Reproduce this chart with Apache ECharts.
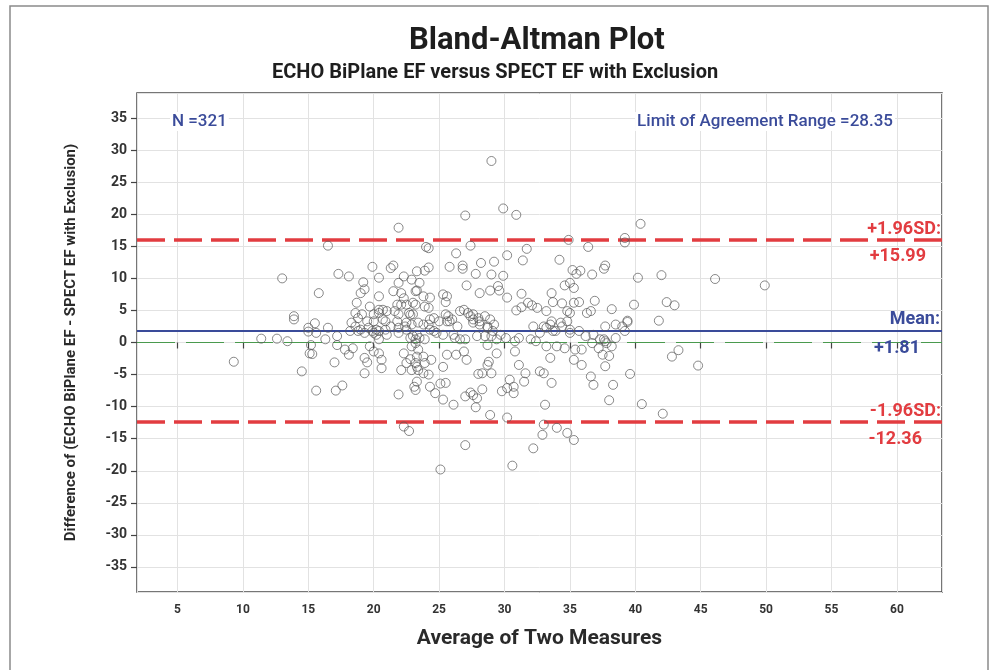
<!DOCTYPE html>
<html>
<head>
<meta charset="utf-8">
<title>Bland-Altman Plot</title>
<script src="https://cdn.jsdelivr.net/npm/echarts@6/dist/echarts.min.js"></script>
<style>
  html, body { margin: 0; padding: 0; background: #fff; }
  #main { width: 998px; height: 670px; }
</style>
</head>
<body>
<div id="main"></div>
<script>
// [average of two measures, difference]
const points = [
  [29.0,28.3],[29.9,20.9],[30.9,19.9],[27.0,19.8],[21.9,17.9],
  [24.0,14.9],[24.2,14.7],[27.4,15.1],[26.3,13.9],[31.7,14.6],[30.2,13.6],[34.9,16.0],[36.4,14.9],
  [34.2,12.9],[31.4,12.8],[29.2,12.6],[28.2,12.4],[25.8,11.8],[26.8,12.0],[26.8,11.5],[24.2,11.7],
  [23.9,11.2],[23.3,11.1],[27.8,10.7],[29.0,10.6],[29.9,10.4],[27.1,8.9],[28.1,7.7],[28.9,8.1],
  [29.5,8.8],[29.6,8.1],[30.2,7.0],[25.3,7.5],[25.6,7.2],[25.5,6.3],[23.8,7.2],[23.3,8.1],[23.5,9.3],
  [22.9,9.8],[24.2,5.4],[23.0,6.2],[22.8,4.3],[31.3,7.6],[31.8,6.2],[32.1,5.8],[32.5,5.4],[30.9,5.0],
  [31.3,5.5],[33.2,4.9],[33.6,7.7],[33.7,6.3],[34.6,8.9],[35.3,8.5],[35.2,11.3],[35.5,10.7],[35.8,11.2],
  [36.7,10.6],[36.9,6.5],[35.3,6.2],[35.7,6.3],[34.4,6.1],[36.3,4.6],[36.6,4.9],[34.8,4.9],[35.0,4.6],
  [26.6,4.9],[26.9,5.1],[27.2,4.6],[27.4,4.1],[25.7,4.1],[26.0,3.6],[25.6,3.3],[28.1,3.3],[27.6,3.6],
  [28.9,3.6],[24.3,3.6],[23.8,2.8],[35.0,9.3],
  [40.4,18.5],[39.2,16.3],[39.2,15.6],[37.7,12.0],[37.6,11.5],[40.2,10.1],[42.0,10.5],[46.1,9.9],
  [49.9,8.9],[38.2,5.2],[39.9,5.9],[42.4,6.3],[43.0,5.8],[37.7,2.5],[39.4,3.4],[39.4,3.2],[39.0,2.5],
  [41.8,3.4],
  [16.5,15.1],[13.0,10.0],[17.3,10.7],[18.1,10.3],[19.9,11.8],[21.3,11.6],[21.5,12.0],[20.4,10.1],
  [19.2,9.4],[15.8,7.7],[13.9,4.1],[15.5,3.0],[22.3,10.3],[21.9,9.3],[19.0,7.7],[19.3,8.3],[20.4,7.2],
  [21.5,8.0],[22.1,7.7],[22.3,6.9],[23.2,8.0],[18.7,6.2],[19.7,5.6],[20.4,5.1],[21.0,4.9],[21.6,4.9],
  [22.1,5.9],[23.2,5.9],[18.6,4.6],[18.8,3.8],[18.3,3.1],[19.5,3.3],[20.0,3.3],[20.7,3.6],[21.8,3.3],
  [22.5,3.1],[15.0,2.3],[16.5,2.3],
  [13.9,3.6],[15.0,1.7],[15.6,1.5],[17.2,1.0],[19.0,2.0],[19.6,2.3],[20.2,2.0],[20.9,3.3],[21.3,2.5],
  [22.5,2.0],[23.0,1.0],[11.4,0.6],[12.6,0.6],[13.4,0.2],[9.3,-3.0],[15.2,-0.4],[15.1,-1.7],[15.3,-1.8],
  [16.3,0.5],[17.2,-0.4],[17.8,-1.1],[18.1,-1.9],[18.4,-0.9],[17.0,-3.1],[14.5,-4.5],[15.6,-7.5],
  [17.1,-7.5],[17.6,-6.7],[19.3,-2.4],[19.5,-3.1],[19.3,-4.8],[20.6,-2.7],[20.6,-4.0],[20.0,-1.4],
  [20.4,-1.7],[19.7,-0.6],[20.2,1.2],[20.0,1.5],[21.0,1.2],[21.9,1.5],[22.3,-1.7],[22.5,-3.2],
  [22.1,-4.3],[22.9,-4.3],[23.3,-2.2],[22.9,-0.6],[23.2,0.5],[23.3,-3.8],[21.9,-8.1],[23.1,-6.9],
  [23.2,-7.4],[22.3,-13.1],[22.7,-13.8],
  [25.1,-19.8],[30.6,-19.2],[27.0,-16.0],[32.2,-16.5],[32.9,-14.4],[34.0,-13.3],[34.8,-14.1],
  [35.3,-15.2],[33.0,-12.8],[28.9,-11.3],[30.2,-11.7],[33.1,-9.7],[26.1,-9.7],[25.3,-8.9],[27.8,-10.1],
  [27.0,-8.4],[27.4,-7.8],[27.6,-8.2],[27.9,-8.7],[28.3,-7.3],[24.3,-6.9],[24.7,-7.9],[25.1,-6.4],
  [25.5,-6.3],[23.3,-6.1],[23.2,-3.2],[22.8,-2.6],[23.4,-4.3],[23.8,-4.8],[23.9,-3.2],[24.2,-5.0],
  [23.8,-2.2],[24.4,-2.7],[23.4,-1.1],[25.3,-3.8],[25.6,-1.9],[26.3,-1.9],[26.9,-1.4],[27.1,-2.7],
  [23.2,-0.1],[23.5,0.7],[23.3,1.2],[24.3,2.0],[24.6,1.8],[24.8,1.5],[25.3,1.2],[26.1,1.2],[26.4,2.5],
  [25.8,3.3],[26.6,0.5],[27.6,3.1],[28.1,2.8],[28.7,2.5],[29.2,2.8],[28.5,1.0],[29.0,1.0],[29.4,0.5],
  [28.7,-0.4],[29.4,-1.7],[28.8,-3.0],[28.7,-3.5],[28.3,-4.8],[29.0,-4.8],[28.0,-4.9],
  [31.1,0.7],[30.8,-1.4],[31.1,-3.5],[31.6,-4.8],[31.5,-6.1],[30.4,-5.8],[30.2,-7.1],[30.7,-6.9],
  [29.8,-7.6],[30.7,-7.9],[32.2,2.5],[32.7,1.5],[33.2,2.3],[33.7,1.8],[34.3,3.1],[34.8,3.3],[35.0,1.5],
  [32.4,0.2],[33.2,-0.6],[34.0,-0.6],[34.6,-0.9],[35.4,-1.1],[35.9,-1.1],[35.3,-2.7],[35.9,-3.5],
  [33.5,-2.4],[32.7,-4.5],[33.0,-4.8],[33.6,-6.3],[36.7,-0.1],[36.6,-5.3],[36.8,-6.6],
  [37.6,0.5],[37.8,-0.1],[38.2,-0.6],[37.2,-0.9],[37.5,-1.9],[38.0,-2.1],[37.7,-3.7],[38.3,-6.6],
  [38.0,-9.0],[39.6,-4.9],[40.5,-9.6],[42.1,-11.1],[42.8,-2.2],[43.3,-1.2],[44.8,-3.6],
  [19.1,4.4],[20.0,4.4],[20.4,4.6],[20.7,5.1],[21.8,5.9],[22.5,5.9],[21.9,4.4],[22.7,4.6],[23.0,4.4],
  [23.9,5.6],[24.3,7.0],[25.5,4.4],[27.6,4.4],[28.0,3.8],[24.6,3.8],[25.0,3.3],[24.2,2.8],[23.4,3.1],
  [22.9,2.8],[22.4,2.5],[21.9,2.3],[20.9,2.0],[20.4,1.8],[19.9,1.8],[19.3,1.5],[18.8,1.8],[18.2,1.8],
  [18.6,2.5],[20.4,0.5],[22.8,0.7],[23.9,0.5],[26.2,0.7],[27.0,0.5],[27.9,1.0],
  [28.5,4.1],[28.7,2.3],[29.1,1.8],[29.7,1.2],[30.1,0.7],[30.8,0.2],[32.0,0.5],[33.0,2.5],[33.5,2.8],
  [33.6,3.3],[33.9,1.8],[34.4,2.5],[35.0,2.0],[35.7,1.8],[36.2,1.0],[36.8,1.2],[37.3,0.5],[37.7,0.2],
  [38.5,2.8],[39.2,1.8],[38.5,0.7]
];

const meanDiff = 1.81;
const upperLimit = 15.99;
const lowerLimit = -12.36;
const sampleSize = 321;
const agreementRange = 28.35;

const font = 'Roboto, "Noto Sans", sans-serif';
const red = '#e23c40';
const blue = '#3a4b9a';
const hidden = { color: 'rgba(0,0,0,0)', width: 1, type: 'solid' };

const chart = echarts.init(document.getElementById('main'));

function limitLabel(text, color, pos, pad, dist) {
  return {
    show: true,
    formatter: text,
    position: pos,
    distance: dist,
    padding: [0, pad, 0, 0],
    color: color,
    fontFamily: font,
    fontWeight: 'bold',
    fontSize: 18
  };
}

const option = {
  animation: false,
  backgroundColor: '#fff',
  grid: {
    left: 137, right: 56, top: 93, bottom: 78,
    show: true, borderColor: '#4a4a4a', borderWidth: 1.5
  },
  xAxis: {
    type: 'value',
    min: 1.9, max: 63.45,
    minInterval: 5, maxInterval: 5, splitNumber: 12,
    axisLine: { show: false },
    axisTick: { length: 6, lineStyle: { color: '#444', width: 1.2 } },
    axisLabel: {
      showMinLabel: false, showMaxLabel: false,
      color: '#333', fontFamily: font, fontWeight: 'bold', fontSize: 12, margin: 12
    },
    splitLine: { lineStyle: { color: '#e2e2e2', width: 1 } },
    name: 'Average of Two Measures',
    nameLocation: 'middle',
    nameGap: 36,
    nameTextStyle: { color: '#2a2a2a', fontFamily: font, fontWeight: 'bold', fontSize: 21 }
  },
  yAxis: {
    type: 'value',
    min: -38.9, max: 38.9,
    minInterval: 5, maxInterval: 5, splitNumber: 16,
    axisLine: { show: false },
    axisTick: { show: true, length: 6, lineStyle: { color: '#444', width: 1.2 } },
    axisLabel: {
      showMinLabel: false, showMaxLabel: false,
      color: '#333', fontFamily: font, fontWeight: 'bold', fontSize: 14, margin: 10
    },
    splitLine: { lineStyle: { color: '#e2e2e2', width: 1 } },
    name: 'Difference of (ECHO BiPlane EF - SPECT EF with Exclusion)',
    nameLocation: 'middle',
    nameGap: 58,
    nameTextStyle: { color: '#2a2a2a', fontFamily: font, fontWeight: 'bold', fontSize: 15 }
  },
  graphic: [
    {
      type: 'rect', silent: true, z: -1,
      shape: { x: 10, y: 6, width: 978, height: 680 },
      style: { fill: 'none', stroke: '#8a8a8a', lineWidth: 1.5 }
    },
    {
      type: 'text', left: 539 - 130, top: 26,
      style: { text: 'Bland-Altman Plot', fill: '#1e1e1e', font: 'bold 31px ' + font, width: 260, align: 'center' }
    },
    {
      type: 'text', left: 272, top: 63,
      style: { text: 'ECHO BiPlane EF versus SPECT EF with Exclusion', fill: '#1e1e1e', font: 'bold 20px ' + font }
    },
    {
      type: 'text', left: 170, top: 112, z: 10,
      style: { text: 'N =' + sampleSize, fill: blue, font: '500 17px ' + font,
        backgroundColor: '#fff', padding: [1, 2] }
    },
    {
      type: 'text', right: 103, top: 112, z: 10,
      style: { text: 'Limit of Agreement Range =' + agreementRange, fill: blue, font: '500 17px ' + font,
        backgroundColor: '#fff', padding: [1, 2] }
    }
  ],
  series: [
    {
      type: 'scatter',
      data: points,
      symbol: 'circle',
      symbolSize: 9,
      z: 3,
      itemStyle: { color: 'rgba(255,255,255,0)', borderColor: '#595959', borderWidth: 0.9 },
      markLine: {
        silent: true,
        symbol: 'none',
        animation: false,
        z: 2,
        data: [
          { yAxis: 0, lineStyle: { color: '#4a9a4e', width: 1.2, type: [38, 11] }, label: { show: false } },
          { yAxis: meanDiff, lineStyle: { color: blue, width: 2, type: 'solid' },
            label: limitLabel('Mean:', blue, 'insideEndTop', 0, 2) },
          { yAxis: meanDiff, lineStyle: hidden,
            label: limitLabel('+' + meanDiff.toFixed(2), blue, 'insideEndBottom', 13, 9) },
          { yAxis: upperLimit, lineStyle: { color: red, width: 3.5, type: [28, 9] },
            label: limitLabel('+1.96SD:', red, 'insideEndTop', 0, 1) },
          { yAxis: upperLimit, lineStyle: hidden,
            label: limitLabel('+' + upperLimit.toFixed(2), red, 'insideEndBottom', 8, 8) },
          { yAxis: lowerLimit, lineStyle: { color: red, width: 3.5, type: [28, 9] },
            label: limitLabel('-1.96SD:', red, 'insideEndTop', 0, 1) },
          { yAxis: lowerLimit, lineStyle: hidden,
            label: limitLabel(lowerLimit.toFixed(2), red, 'insideEndBottom', 11, 9) }
        ]
      }
    }
  ]
};

chart.setOption(option);
window.addEventListener('resize', () => {
  chart.resize();
});
</script>
</body>
</html>
